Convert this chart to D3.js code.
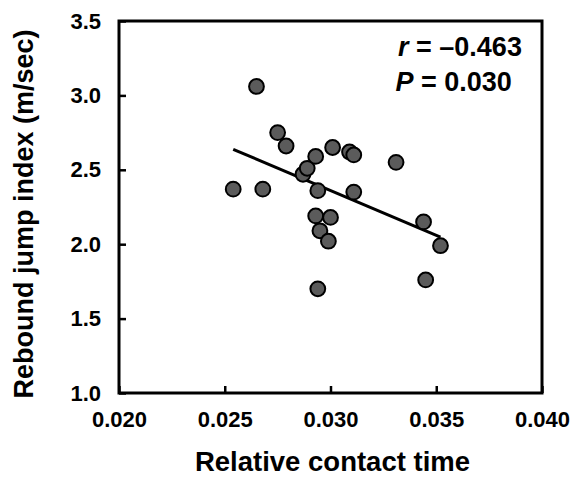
<!DOCTYPE html>
<html>
<head>
  <meta charset="utf-8">
  <title>Rebound jump index vs relative contact time</title>
  <script src="https://d3js.org/d3.v7.min.js"></script>
  <style>
    body { margin: 0; background: #fff; }
    svg text { font-family: "Liberation Sans", Arial, sans-serif; font-weight: bold; fill: #000; }
  </style>
</head>
<body>
  <div id="chart"></div>
  <script>
    // values
    var contactTime = [0.0254, 0.0265, 0.0268, 0.0275, 0.0279, 0.0287, 0.0289, 0.0293,
                       0.0294, 0.0293, 0.0295, 0.0294, 0.0300, 0.0299, 0.0301, 0.0309,
                       0.0311, 0.0311, 0.0331, 0.0344, 0.0345, 0.0352];
    var jumpIndex   = [2.37, 3.06, 2.37, 2.75, 2.66, 2.47, 2.51, 2.59,
                       2.36, 2.19, 2.09, 1.70, 2.18, 2.02, 2.65, 2.62,
                       2.60, 2.35, 2.55, 2.15, 1.76, 1.99];
    // regression line ends (as drawn)
    var fitX = [0.0254, 0.0352];
    var fitY = [2.638, 2.048];

    var xTicks = [0.020, 0.025, 0.030, 0.035, 0.040];
    var yTicks = [1.0, 1.5, 2.0, 2.5, 3.0, 3.5];
    var statLines = [["r", " = \u20130.463"], ["P", " = 0.030"]];

    var W = 574, H = 479;
    var margin = {top: 21, right: 32, bottom: 86, left: 119},
        width = W - margin.left - margin.right,
        height = H - margin.top - margin.bottom;

    var svg = d3.select("#chart").append("svg")
        .attr("width", W)
        .attr("height", H);
    var g = svg.append("g")
        .attr("transform", "translate(" + margin.left + "," + margin.top + ")");

    var x = d3.scaleLinear().domain([0.020, 0.040]).range([0, width]);
    var y = d3.scaleLinear().domain([1.0, 3.5]).range([height, 0]);

    var xAxis = g.append("g")
        .attr("transform", "translate(0," + height + ")")
        .call(d3.axisBottom(x).tickValues(xTicks).tickFormat(d3.format(".3f"))
              .tickSizeInner(-7).tickSizeOuter(0).tickPadding(18));
    var yAxis = g.append("g")
        .call(d3.axisLeft(y).tickValues(yTicks).tickFormat(d3.format(".1f"))
              .tickSizeInner(-7).tickSizeOuter(0).tickPadding(18));

    [xAxis, yAxis].forEach(function(a) {
      a.select(".domain").remove();
      a.selectAll(".tick line").attr("stroke", "#000").attr("stroke-width", 2.5);
      a.selectAll(".tick text").style("font-size", "22px");
    });

    // frame
    g.append("rect")
      .attr("x", 0).attr("y", 0)
      .attr("width", width).attr("height", height)
      .attr("fill", "none")
      .attr("stroke", "#000")
      .attr("stroke-width", 3);

    // regression line
    g.append("line")
      .attr("x1", x(fitX[0])).attr("y1", y(fitY[0]))
      .attr("x2", x(fitX[1])).attr("y2", y(fitY[1]))
      .attr("stroke", "#000")
      .attr("stroke-width", 3);

    // points
    g.selectAll("circle.pt")
      .data(contactTime)
      .enter().append("circle")
        .attr("class", "pt")
        .attr("cx", function(d) { return x(d); })
        .attr("cy", function(d, i) { return y(jumpIndex[i]); })
        .attr("r", 7.4)
        .attr("fill", "#5b5b5b")
        .attr("stroke", "#000")
        .attr("stroke-width", 2);

    // stats (right edges differ per line, as in the figure)
    var statRight = [0.03905, 0.03857];
    var stat = g.append("text")
      .attr("text-anchor", "end")
      .style("font-size", "27px");
    statLines.forEach(function(s, i) {
      var t = stat.append("tspan")
        .attr("x", x(statRight[i]))
        .attr("y", 35 + i * 34.5);
      t.append("tspan").style("font-style", "italic").text(s[0]);
      t.append("tspan").text(s[1]);
    });

    // axis titles
    svg.append("text")
      .attr("x", margin.left + width / 2 + 2)
      .attr("y", 471)
      .attr("text-anchor", "middle")
      .style("font-size", "27.5px")
      .text("Relative contact time");

    svg.append("text")
      .attr("transform", "translate(33," + (margin.top + height / 2 + 7) + ") rotate(-90)")
      .attr("text-anchor", "middle")
      .style("font-size", "27px")
      .text("Rebound jump index (m/sec)");
  </script>
</body>
</html>
